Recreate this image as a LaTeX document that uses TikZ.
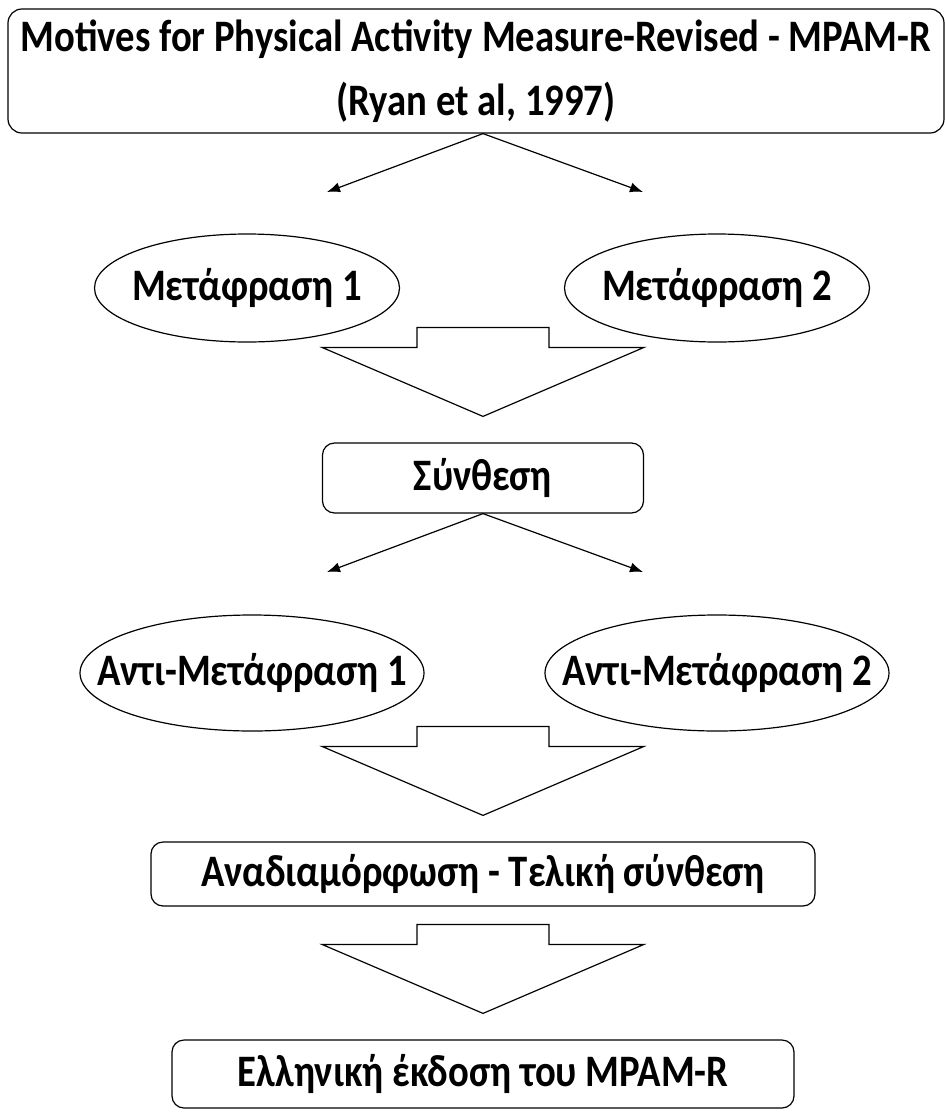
\documentclass[tikz,border=0pt]{standalone}
\usepackage{fontspec}
\setmainfont{Carlito}[FakeStretch=0.86]
\usetikzlibrary{shapes,arrows,arrows.meta,calc}
\tikzstyle{line} = [draw, line width=1.2pt, -{Latex[length=13pt,width=10pt]}]
\tikzstyle{titlebox} = [draw, rectangle, line width=1.2pt, rounded corners=14pt, align=center, minimum width=936pt, minimum height=124pt, font=\fontsize{45}{64}\selectfont\bfseries]
\tikzstyle{stagebox} = [draw, rectangle, line width=1.2pt, rounded corners=12pt, text centered, font=\fontsize{45}{54}\selectfont\bfseries]
\tikzstyle{transl} = [draw, ellipse, line width=1.2pt, inner xsep=-70pt, inner ysep=0pt, text centered, font=\fontsize{45}{54}\selectfont\bfseries]
\tikzstyle{fatarrow} = [draw, line width=1.2pt, fill=white]

\begin{document}
\begin{tikzpicture}[x=1pt, y=1pt]
        \useasboundingbox (0,0) rectangle (945,-1112);
        \node[titlebox] (title) at (476,-71) {Motives for Physical Activity Measure-Revised - MPAM-R\\(Ryan et al, 1997)};
        \node[transl, below of=title, node distance=217pt, xshift=-229pt, minimum width=305pt, minimum height=108pt] (tr1) {Μετάφραση 1};
        \node[transl, below of=title, node distance=217pt, xshift=241pt, minimum width=305pt, minimum height=108pt] (tr2) {Μετάφραση 2};
        \node[stagebox, below of=title, node distance=407pt, xshift=7pt, minimum width=321pt, minimum height=70pt] (synth) {Σύνθεση};
        \node[transl, below of=synth, node distance=195pt, xshift=-231pt, minimum width=344pt, minimum height=116pt] (back1) {Αντι-Μετάφραση 1};
        \node[transl, below of=synth, node distance=195pt, xshift=234pt, minimum width=344pt, minimum height=116pt] (back2) {Αντι-Μετάφραση 2};
        \node[stagebox, below of=synth, node distance=396pt, minimum width=664pt, minimum height=64pt] (revise) {Αναδιαμόρφωση - Τελική σύνθεση};
        \node[stagebox, below of=revise, node distance=200pt, minimum width=622pt, minimum height=68pt] (greek) {Ελληνική έκδοση του MPAM-R};
        % split arrows
        \coordinate (split1) at (title.south -| synth.center);
        \coordinate (tip1) at (327,-192);
        \coordinate (tip2) at (643,-192);
        \coordinate (tip3) at (327,-572);
        \coordinate (tip4) at (643,-572);
        \path[line] (split1) -- (tip1);
        \path[line] (split1) -- (tip2);
        \path[line] (synth.south) -- (tip3);
        \path[line] (synth.south) -- (tip4);
        % block arrows
        \foreach \target in {synth, revise, greek}
            \draw[fatarrow, shift={($(\target.north)+(0,26)$)}] (0,0) -- (161,69) -- (66,69) -- (66,89) -- (-66,89) -- (-66,69) -- (-161,69) -- cycle;
    \end{tikzpicture}
\end{document}
